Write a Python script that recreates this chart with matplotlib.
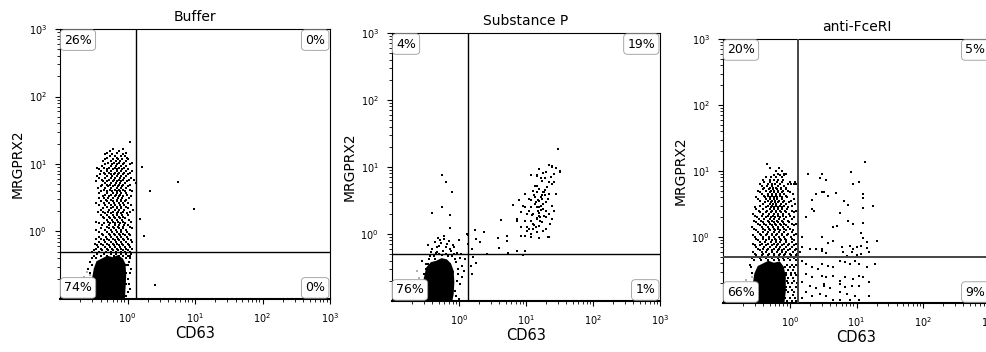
import matplotlib
matplotlib.use('Agg')
import matplotlib.pyplot as plt
import numpy as np

# all event positions are log10(CD63), log10(MRGPRX2)
TITLES = ['Buffer', 'Substance P', 'anti-FceRI']
QUAD_PCT = [['26%', '0%', '74%', '0%'],
            ['4%', '19%', '76%', '1%'],
            ['20%', '5%', '66%', '9%']]
GATE_X = 1.35
GATE_Y = 0.5

# ---------- Buffer ----------
BUF_ROWS = [
    (1.33, [0.03]),
    (1.22, [-0.22, -0.07]),
    (1.17, [-0.3, -0.15, -0.02]),
    (1.12, [-0.26, -0.19, -0.1, -0.04]),
    (1.07, [-0.33, -0.22, -0.14, -0.08, 0.0]),
    (1.02, [-0.29, -0.2, -0.12, -0.05, 0.07]),
    (0.97, [-0.38, -0.25, -0.17, -0.1, -0.02]),
    (0.92, [-0.42, -0.31, -0.22, -0.15, -0.08, 0.01]),
    (0.87, [-0.35, -0.27, -0.19, -0.12, -0.05, 0.04]),
    (0.82, [-0.45, -0.3, -0.23, -0.16, -0.1, -0.03]),
    (0.77, [-0.38, -0.28, -0.2, -0.13, -0.07, 0.02, 0.09]),
    (0.72, [-0.33, -0.24, -0.17, -0.11, -0.04]),
    (0.67, [-0.4, -0.29, -0.21, -0.14, -0.08, 0.0]),
    (0.62, [-0.35, -0.26, -0.18, -0.12, -0.06, 0.03]),
    (0.57, [-0.43, -0.3, -0.22, -0.15, -0.09, -0.02]),
    (0.52, [-0.37, -0.27, -0.19, -0.13, -0.06, 0.05]),
    (0.47, [-0.32, -0.24, -0.16, -0.1, -0.03]),
    (0.42, [-0.46, -0.35, -0.27, -0.2, -0.13, -0.07, 0.01]),
    (0.37, [-0.3, -0.22, -0.15, -0.09, -0.02]),
    (0.32, [-0.4, -0.27, -0.19, -0.12, -0.05, 0.08]),
    (0.27, [-0.33, -0.24, -0.16, -0.1, -0.01]),
    (0.22, [-0.37, -0.28, -0.2, -0.13, -0.06]),
    (0.17, [-0.31, -0.23, -0.15, -0.08, 0.02]),
    (0.12, [-0.42, -0.35, -0.26, -0.18, -0.11, -0.04]),
    (0.07, [-0.3, -0.21, -0.14, -0.07, 0.04]),
    (0.02, [-0.47, -0.33, -0.25, -0.17, -0.1, -0.03]),
    (-0.03, [-0.38, -0.28, -0.2, -0.13, -0.06, 0.02]),
    (-0.08, [-0.43, -0.32, -0.24, -0.16, -0.09, -0.01]),
    (-0.13, [-0.35, -0.27, -0.19, -0.12, -0.05, 0.05]),
    (-0.18, [-0.48, -0.4, -0.3, -0.22, -0.15, -0.08, 0.0]),
    (-0.23, [-0.44, -0.34, -0.26, -0.18, -0.11, -0.04, 0.03]),
    (-0.28, [-0.5, -0.38, -0.29, -0.21, -0.14, -0.07, 0.01]),
    (-0.33, [-0.45, -0.35, -0.25, -0.17, -0.1, -0.03, 0.05]),
    (-0.45, [-0.55, 0.02]),
    (-0.55, [-0.58, 0.05]),
    (-0.7, [0.0]),
    (-0.85, [0.03]),
    (-0.95, [-0.02]),
]
BUF_ROWS2 = [
    (1.195, [-0.26, -0.12]),
    (1.145, [-0.34, -0.23, -0.06]),
    (1.095, [-0.3, -0.16, -0.01]),
    (1.045, [-0.37, -0.25, -0.17, -0.11, -0.03]),
    (0.995, [-0.33, -0.23, -0.15, -0.07, 0.03]),
    (0.945, [-0.45, -0.35, -0.27, -0.19, -0.12, -0.05]),
    (0.895, [-0.39, -0.3, -0.24, -0.16, -0.1, -0.02, 0.06]),
    (0.845, [-0.41, -0.33, -0.25, -0.2, -0.14, -0.07, 0.0]),
    (0.795, [-0.42, -0.33, -0.25, -0.18, -0.11, -0.05, 0.05]),
    (0.745, [-0.47, -0.36, -0.3, -0.21, -0.15, -0.09, -0.01]),
    (0.695, [-0.38, -0.31, -0.26, -0.19, -0.12, -0.06, 0.04]),
    (0.645, [-0.44, -0.33, -0.24, -0.16, -0.1, -0.03]),
    (0.595, [-0.39, -0.31, -0.23, -0.15, -0.11, -0.04, 0.06]),
    (0.545, [-0.34, -0.25, -0.17, -0.11, -0.01]),
    (0.495, [-0.43, -0.35, -0.29, -0.21, -0.14, -0.08, 0.02]),
    (0.445, [-0.4, -0.3, -0.22, -0.15, -0.09, -0.04]),
    (0.395, [-0.43, -0.33, -0.25, -0.18, -0.11, -0.05, 0.05]),
    (0.345, [-0.36, -0.24, -0.16, -0.1, 0.0]),
    (0.295, [-0.44, -0.37, -0.29, -0.21, -0.14, -0.07, 0.03]),
    (0.245, [-0.4, -0.3, -0.22, -0.15, -0.08, 0.0]),
    (0.195, [-0.35, -0.26, -0.18, -0.11, -0.04]),
    (0.145, [-0.46, -0.29, -0.21, -0.14, -0.06, 0.05]),
    (0.095, [-0.38, -0.27, -0.19, -0.12, -0.05, 0.01]),
    (0.045, [-0.4, -0.28, -0.2, -0.13, -0.06, 0.06]),
    (-0.005, [-0.43, -0.31, -0.23, -0.16, -0.09, -0.01]),
    (-0.055, [-0.36, -0.26, -0.19, -0.11, -0.04, 0.04]),
    (-0.105, [-0.46, -0.39, -0.3, -0.22, -0.14, -0.07, 0.01]),
    (-0.155, [-0.42, -0.33, -0.24, -0.17, -0.1, -0.03, 0.06]),
    (-0.205, [-0.45, -0.36, -0.28, -0.2, -0.13, -0.06, 0.02]),
    (-0.255, [-0.47, -0.4, -0.31, -0.23, -0.16, -0.09, -0.02, 0.06]),
    (-0.305, [-0.53, -0.43, -0.32, -0.24, -0.17, -0.1, -0.04, 0.03]),
    (-0.36, [-0.5, -0.4, -0.3, -0.2, -0.12, -0.06, 0.0, 0.04]),
    (-0.4, [-0.52, -0.47, -0.02, 0.03]),
    (-0.5, [-0.53, -0.03, 0.01]),
    (-0.62, [-0.55, -0.02, 0.04]),
    (-0.78, [-0.55, -0.03, 0.02]),
    (-0.9, [-0.06, 0.01]),
]
BUF_OUT_X = [0.22, 0.75, 0.99, 0.34, 0.18, 0.24, 0.40, 0.13]
BUF_OUT_Y = [0.95, 0.73, 0.34, 0.6, 0.19, -0.06, -0.79, 0.72]
BUF_CORE_X = [-0.53, -0.53, -0.5, -0.46, -0.38, -0.3, -0.22, -0.14, -0.07, -0.03, -0.02, -0.03, -0.04]
BUF_CORE_Y = [-1.0, -0.72, -0.55, -0.44, -0.4, -0.36, -0.38, -0.35, -0.4, -0.48, -0.65, -0.85, -1.0]
BUF_GRAY_X = [-0.62, -0.58, -0.66, -0.55, -0.7, -0.6, -0.64, -0.57]
BUF_GRAY_Y = [-0.75, -0.85, -0.92, -0.65, -0.97, -0.6, -0.68, -0.95]

# ---------- Substance P ----------
SP_X = [-0.25, -0.19, -0.10, -0.41, -0.25, -0.13, -0.13, -0.22, -0.28, -0.47, 0.0, 0.24, 0.12,
        0.19, 0.19, 0.04, 0.09, 0.25, 0.37, 0.31, 0.41, 0.58, 0.59, 0.71, 0.71, 0.8, 0.62, 0.73,
        0.86, 0.96, 0.99, 0.87, 0.93, 0.18, 0.25, 0.21, 0.13, 0.13,
        -0.31, -0.22, -0.36, -0.18, -0.09, -0.3, -0.4, -0.13, -0.24, -0.33, -0.03, -0.44, -0.36,
        -0.16, -0.06, 0.01, 0.04, -0.01, -0.09, -0.03, -0.09, -0.06, -0.46, -0.5, -0.53,
        -0.45, -0.38, -0.3, -0.2, -0.1, -0.04, -0.02, 0.02, -0.05, 0.0, -0.55, -0.5, -0.42,
        -0.33, -0.27, -0.2, -0.12, -0.07, -0.15, -0.35, 0.07, 0.03, -0.08, -0.26,
        # activated cluster
        1.47, 1.35, 1.39, 1.19, 1.26, 1.07, 1.16, 1.5, 1.42, 1.35, 1.24, 1.16, 1.39, 0.99, 1.1,
        1.2, 1.27, 1.35, 1.05, 1.13, 1.19, 1.24, 1.3, 1.39, 0.98, 1.08, 1.16, 1.23, 1.3,
        0.93, 1.02, 1.11, 1.19, 1.27, 1.35, 0.87, 0.98, 1.08, 1.16, 1.24, 1.39, 0.93, 1.02,
        1.1, 1.2, 1.3, 0.99, 1.08, 1.33, 1.16, 1.05, 1.35, 1.2, 1.07, 1.3, 1.39, 1.5, 1.42,
        1.16, 1.2, 1.25, 1.22, 1.18, 1.28, 1.15, 1.32, 1.21, 1.26, 1.12, 1.29,
        1.14, 1.18, 1.22, 1.26, 1.2, 1.17, 1.24, 1.28, 1.32, 1.12, 1.08, 1.04, 1.1, 1.15, 1.25,
        1.36, 1.42, 1.45, 1.33, 1.37, 1.44, 1.01, 0.95, 0.9, 1.13, 1.23, 1.3, 1.21, 1.09, 1.17]
SP_Y = [0.88, 0.78, 0.63, 0.31, 0.40, 0.28, 0.09, -0.03, -0.09, -0.16, -0.09, 0.06, 0.0,
        -0.22, -0.6, -0.64, -0.37, -0.07, 0.03, -0.12, -0.3, -0.06, -0.21, -0.03, -0.1, 0.43, 0.21,
        -0.28, -0.25, -0.31, -0.25, 0.19, -0.03, -0.48, -0.43, -0.34, -0.01, -0.15,
        -0.06, -0.07, -0.12, -0.15, -0.16, -0.18, -0.22, -0.22, -0.25, -0.27, -0.28, -0.33, -0.37,
        -0.33, -0.37, -0.36, -0.48, -0.52, -0.57, -0.7, -0.78, -0.85, -0.45, -0.52, -0.6,
        -0.38, -0.33, -0.3, -0.3, -0.33, -0.42, -0.6, -0.75, -0.92, -0.97, -0.4, -0.45, -0.27,
        -0.2, -0.14, -0.2, -0.26, -0.2, -0.1, -0.28, -0.55, -0.3, -0.3, -0.32,
        1.27, 1.03, 1.0, 0.97, 0.91, 0.88, 0.87, 0.94, 0.9, 0.78, 0.79, 0.72, 0.75, 0.6, 0.64,
        0.67, 0.63, 0.6, 0.52, 0.55, 0.49, 0.52, 0.48, 0.42, 0.4, 0.4, 0.4, 0.36, 0.34,
        0.33, 0.3, 0.3, 0.27, 0.27, 0.3, 0.22, 0.19, 0.19, 0.22, 0.18, 0.22, 0.1, 0.04,
        0.07, 0.12, 0.07, -0.03, -0.04, -0.04, 0.03, 0.07, -0.04, -0.06, 0.0, 0.93, 1.02, 0.93, 0.78,
        0.88, 0.4, 0.45, 0.55, 0.35, 0.58, 0.48, 0.7, 0.25, 0.62, 0.14, 0.84,
        0.45, 0.5, 0.42, 0.38, 0.32, 0.24, 0.58, 0.66, 0.7, 0.58, 0.5, 0.35, 0.15, 0.1, 0.05,
        0.15, 0.35, 0.6, 0.52, 0.85, 0.98, 0.1, 0.42, 0.5, 0.72, 0.83, 0.25, 0.2, 0.28, 0.62]
SP_CORE_X = [-0.53, -0.53, -0.49, -0.42, -0.34, -0.26, -0.18, -0.12, -0.08, -0.07, -0.08, -0.1]
SP_CORE_Y = [-1.0, -0.68, -0.5, -0.42, -0.4, -0.36, -0.38, -0.44, -0.55, -0.72, -0.9, -1.0]
SP_GRAY_X = [-0.6, -0.65, -0.58, -0.7, -0.55, -0.62, -0.67, -0.6]
SP_GRAY_Y = [-0.65, -0.8, -0.9, -0.95, -0.75, -0.55, -0.7, -0.98]

# ---------- anti-FceRI ----------
FC_ROWS = [
    (1.11, [-0.34]),
    (1.0, [-0.21, -0.12]),
    (0.96, [-0.18, -0.09, -0.05]),
    (0.91, [-0.36, -0.28, -0.2, -0.12]),
    (0.86, [-0.4, -0.3, -0.24, -0.17, -0.1]),
    (0.8, [-0.45, -0.33, -0.27, -0.22, -0.15, -0.03, 0.02, 0.06, 0.1]),
    (0.75, [-0.38, -0.3, -0.25, -0.2, -0.13, -0.06]),
    (0.7, [-0.48, -0.35, -0.28, -0.23, -0.17, -0.1, -0.02]),
    (0.65, [-0.42, -0.32, -0.26, -0.21, -0.15, -0.08, 0.05]),
    (0.6, [-0.5, -0.37, -0.29, -0.24, -0.19, -0.12, -0.04]),
    (0.55, [-0.44, -0.33, -0.27, -0.22, -0.16, -0.09, 0.02]),
    (0.5, [-0.4, -0.3, -0.25, -0.2, -0.13, -0.05, 0.08]),
    (0.45, [-0.52, -0.36, -0.28, -0.23, -0.18, -0.11, -0.02]),
    (0.4, [-0.46, -0.34, -0.26, -0.21, -0.15, -0.07, 0.03, 0.1]),
    (0.35, [-0.55, -0.4, -0.31, -0.24, -0.17, -0.1, -0.01]),
    (0.3, [-0.49, -0.36, -0.28, -0.22, -0.14, -0.05, 0.06]),
    (0.25, [-0.53, -0.43, -0.33, -0.26, -0.19, -0.12, -0.03]),
    (0.2, [-0.47, -0.38, -0.29, -0.22, -0.15, -0.08, 0.04, 0.1]),
    (0.15, [-0.56, -0.42, -0.33, -0.25, -0.18, -0.1, -0.02]),
    (0.1, [-0.5, -0.37, -0.29, -0.22, -0.14, -0.06, 0.05]),
    (0.05, [-0.45, -0.34, -0.26, -0.19, -0.11, -0.03, 0.1]),
    (0.0, [-0.52, -0.4, -0.31, -0.23, -0.16, -0.08, 0.02]),
    (-0.05, [-0.47, -0.36, -0.27, -0.2, -0.13, -0.05, 0.07]),
    (-0.1, [-0.55, -0.42, -0.32, -0.24, -0.17, -0.09, -0.01, 0.1]),
    (-0.15, [-0.5, -0.38, -0.29, -0.21, -0.14, -0.06, 0.04]),
    (-0.2, [-0.45, -0.34, -0.26, -0.18, -0.11, -0.03, 0.08]),
    (-0.25, [-0.52, -0.4, -0.31, -0.23, -0.15, -0.07, 0.01, 0.11]),
    (-0.3, [-0.48, -0.37, -0.28, -0.2, -0.12, -0.04, 0.05]),
    (-0.35, [-0.53, -0.43, -0.33, -0.24, -0.16, -0.08, 0.0, 0.09]),
    (-0.42, [-0.6, -0.04, 0.03, 0.1]),
    (-0.5, [-0.03, 0.05]),
    (-0.58, [-0.05, 0.02, 0.09]),
    (-0.66, [-0.04, 0.06]),
    (-0.75, [-0.06, 0.01, 0.1]),
    (-0.84, [-0.03, 0.07]),
    (-0.93, [-0.07, 0.0, 0.08]),
]
FC_ROWS2 = [
    (1.05, [-0.3, -0.16]),
    (0.935, [-0.24, -0.15, -0.08]),
    (0.83, [-0.38, -0.29, -0.19, -0.11, 0.0, 0.08]),
    (0.775, [-0.42, -0.34, -0.27, -0.17, -0.09]),
    (0.725, [-0.4, -0.31, -0.25, -0.19, -0.13, -0.05]),
    (0.675, [-0.45, -0.3, -0.24, -0.18, -0.12, 0.01]),
    (0.625, [-0.39, -0.33, -0.27, -0.21, -0.14, -0.06]),
    (0.575, [-0.47, -0.35, -0.29, -0.24, -0.19, -0.12, 0.07]),
    (0.525, [-0.37, -0.28, -0.22, -0.17, -0.1, -0.01]),
    (0.475, [-0.45, -0.33, -0.26, -0.21, -0.15, -0.08, 0.04]),
    (0.425, [-0.5, -0.4, -0.3, -0.24, -0.18, -0.12, -0.04]),
    (0.375, [-0.44, -0.35, -0.28, -0.2, -0.13, -0.05, 0.07]),
    (0.325, [-0.52, -0.42, -0.32, -0.25, -0.18, -0.1, 0.01]),
    (0.275, [-0.46, -0.38, -0.3, -0.23, -0.16, -0.08, 0.03]),
    (0.225, [-0.5, -0.4, -0.31, -0.24, -0.17, -0.1, -0.01]),
    (0.175, [-0.44, -0.36, -0.27, -0.2, -0.13, -0.05, 0.07]),
    (0.125, [-0.53, -0.4, -0.31, -0.24, -0.17, -0.09, 0.01]),
    (0.075, [-0.48, -0.4, -0.32, -0.24, -0.16, -0.08, 0.03]),
    (0.025, [-0.55, -0.43, -0.35, -0.27, -0.2, -0.12, -0.04, 0.07]),
    (-0.025, [-0.5, -0.4, -0.31, -0.22, -0.15, -0.07, 0.04]),
    (-0.075, [-0.45, -0.37, -0.28, -0.21, -0.14, -0.06, 0.03]),
    (-0.125, [-0.52, -0.44, -0.35, -0.26, -0.19, -0.11, -0.03, 0.07]),
    (-0.175, [-0.47, -0.4, -0.32, -0.23, -0.16, -0.08, 0.01, 0.1]),
    (-0.225, [-0.55, -0.42, -0.35, -0.27, -0.19, -0.12, -0.05, 0.05]),
    (-0.275, [-0.5, -0.41, -0.32, -0.24, -0.16, -0.08, 0.02, 0.09]),
    (-0.325, [-0.56, -0.44, -0.35, -0.26, -0.18, -0.1, -0.02, 0.07]),
    (-0.46, [-0.58, -0.07, 0.0, 0.07]),
    (-0.54, [-0.57, -0.06, 0.02, 0.08]),
    (-0.62, [-0.02, 0.05]),
    (-0.7, [-0.03, 0.04, 0.11]),
    (-0.8, [-0.05, 0.04]),
    (-0.88, [-0.08, 0.05]),
    (-0.97, [-0.04, 0.03, 0.1]),
]
FC_OUT_X = [1.12, 0.91, 0.94, 1.03, 0.49, 0.54, 0.51, 0.57, 0.69, 0.81, 0.87, 1.09, 1.09, 1.09,
            1.24, 0.75, 0.87, 0.94, 0.64, 0.7, 1.09, 1.06, 0.49, 0.57, 0.64, 1.09, 1.15, 1.3,
            0.78, 0.9, 0.94, 1.01, 1.07, 1.15, 0.48, 0.55, 0.79, 0.85, 0.93, 1.0, 1.07, 1.19,
            0.69, 0.75, 0.82, 0.9, 0.97, 1.04, 1.27, 1.16, 0.49, 0.57, 0.64, 0.48, 0.55, 0.64,
            0.75, 0.82, 0.94, 1.04, 1.09, 0.52, 0.6, 0.75, 0.82, 0.93, 1.04, 1.18, 0.75, 0.85,
            0.97, 1.19, 0.55, 0.64, 0.75, 0.9, 1.04,
            0.28, 0.45, 0.4, 0.49, 0.34, 0.34, 0.37, 0.25, 0.19, 0.3, 0.4, 0.49, 0.18, 0.25,
            0.33, 0.42, 0.25, 0.34, 0.48, 0.19, 0.3, 0.4, 0.52, 0.25, 0.34, 0.45, 0.19, 0.55,
            0.13, 0.13, 0.15, 0.18, 0.13]
FC_OUT_Y = [1.14, 0.99, 0.81, 0.84, 0.96, 0.86, 0.68, 0.62, 0.66, 0.54, 0.48, 0.65, 0.59, 0.44,
            0.47, 0.36, 0.24, 0.2, 0.15, 0.17, 0.21, 0.06, 0.0, -0.09, -0.06, -0.02, -0.08, -0.06,
            -0.15, -0.14, -0.18, -0.15, -0.14, -0.17, -0.18, -0.24, -0.23, -0.29, -0.23, -0.27, -0.26, -0.23,
            -0.3, -0.36, -0.38, -0.41, -0.36, -0.41, -0.41, -0.45, -0.41, -0.44, -0.45, -0.59, -0.6, -0.59,
            -0.66, -0.6, -0.63, -0.59, -0.6, -0.74, -0.78, -0.71, -0.75, -0.74, -0.74, -0.68, -0.83, -0.86,
            -0.89, -0.9, -0.89, -0.96, -0.96, -0.96, -0.96,
            0.96, 0.9, 0.65, 0.68, 0.56, 0.42, 0.39, 0.3, 0.0, -0.18, -0.18, -0.21, -0.15, -0.41,
            -0.45, -0.48, -0.56, -0.6, -0.59, -0.68, -0.74, -0.78, -0.71, -0.83, -0.89, -0.86, -0.93, -0.89,
            0.72, 0.02, -0.23, -0.36, -0.59]
FC_CORE_X = [-0.56, -0.56, -0.53, -0.48, -0.4, -0.32, -0.24, -0.15, -0.09, -0.06, -0.06, -0.08]
FC_CORE_Y = [-1.0, -0.75, -0.55, -0.44, -0.4, -0.36, -0.39, -0.37, -0.45, -0.6, -0.82, -1.0]
FC_GRAY_X = [-0.65, -0.6, -0.7, -0.57, -0.63, -0.68, -0.6, -0.66]
FC_GRAY_Y = [-0.9, -0.8, -0.95, -0.6, -0.7, -0.85, -0.98, -0.65]


def expand(*row_sets):
    xs, ys = [], []
    for rows in row_sets:
        for y, row in rows:
            xs += row
            ys += [y] * len(row)
    return xs, ys


buf_x, buf_y = expand(BUF_ROWS, BUF_ROWS2)
fc_x, fc_y = expand(FC_ROWS, FC_ROWS2)

PANELS = [
    dict(x=buf_x + BUF_OUT_X, y=buf_y + BUF_OUT_Y, cx=BUF_CORE_X, cy=BUF_CORE_Y,
         gx=BUF_GRAY_X, gy=BUF_GRAY_Y, pos=[0.0609, 0.1506, 0.2738, 0.767],
         gate='black', glw=1.0),
    dict(x=SP_X, y=SP_Y, cx=SP_CORE_X, cy=SP_CORE_Y,
         gx=SP_GRAY_X, gy=SP_GRAY_Y, pos=[0.3976, 0.1449, 0.2718, 0.7614],
         gate='black', glw=1.0),
    dict(x=fc_x + FC_OUT_X, y=fc_y + FC_OUT_Y, cx=FC_CORE_X, cy=FC_CORE_Y,
         gx=FC_GRAY_X, gy=FC_GRAY_Y, pos=[0.7333, 0.1392, 0.2708, 0.75],
         gate='#444444', glw=1.4),
]

plt.rcParams['font.family'] = 'DejaVu Sans'
fig = plt.figure(figsize=(9.86, 3.52), dpi=100)

for i, p in enumerate(PANELS):
    ax = fig.add_axes(p['pos'])
    ax.set_xscale('log')
    ax.set_yscale('log')
    ax.set_xlim(0.1, 1000)
    ax.set_ylim(0.1, 1000)

    ax.fill(10 ** np.array(p['cx']), 10 ** np.array(p['cy']), color='black', lw=0, zorder=2)
    ax.scatter(10 ** np.array(p['gx']), 10 ** np.array(p['gy']), s=4, marker='s',
               color='#b0b0b0', linewidths=0, zorder=1)
    ax.scatter(10 ** np.array(p['x']), 10 ** np.array(p['y']), s=4, marker='s',
               color='black', linewidths=0, zorder=2)

    ax.axvline(GATE_X, color=p['gate'], lw=p['glw'], zorder=3)
    ax.axhline(GATE_Y, color=p['gate'], lw=p['glw'], zorder=3)

    box = dict(boxstyle='round,pad=0.3', fc='white', ec='#9a9a9a', lw=0.6)
    ul, ur, ll, lr = QUAD_PCT[i]
    ax.text(0.015, 0.983, ul, transform=ax.transAxes, ha='left', va='top', fontsize=9, bbox=box, zorder=5)
    ax.text(0.982, 0.983, ur, transform=ax.transAxes, ha='right', va='top', fontsize=9, bbox=box, zorder=5)
    ax.text(0.015, 0.017, ll, transform=ax.transAxes, ha='left', va='bottom', fontsize=9, bbox=box, zorder=5)
    ax.text(0.982, 0.017, lr, transform=ax.transAxes, ha='right', va='bottom', fontsize=9, bbox=box, zorder=5)

    ticks = [1, 10, 100, 1000]
    labels = [r'$10^{0}$', r'$10^{1}$', r'$10^{2}$', r'$10^{3}$']
    ax.set_xticks(ticks)
    ax.set_xticklabels(labels)
    ax.set_yticks(ticks)
    ax.set_yticklabels(labels)
    ax.xaxis.set_minor_locator(matplotlib.ticker.LogLocator(base=10, subs=np.arange(2, 10)))
    ax.yaxis.set_minor_locator(matplotlib.ticker.LogLocator(base=10, subs=np.arange(2, 10)))
    ax.xaxis.set_minor_formatter(matplotlib.ticker.NullFormatter())
    ax.yaxis.set_minor_formatter(matplotlib.ticker.NullFormatter())
    ax.tick_params(which='major', length=3.5, width=0.8, labelsize=7)
    ax.tick_params(axis='x', which='major', pad=5)
    ax.tick_params(axis='y', which='major', pad=6)
    ax.tick_params(which='minor', length=2, width=0.6)

    for s in ax.spines.values():
        s.set_linewidth(0.8)
    ax.spines['bottom'].set_linewidth(1.5)

    ax.set_title(TITLES[i], fontsize=10, pad=6)
    ax.set_xlabel('CD63', fontsize=10.5, labelpad=1)
    ax.set_ylabel('MRGPRX2', fontsize=10, labelpad=3)

fig.savefig('out.png', dpi=100)
